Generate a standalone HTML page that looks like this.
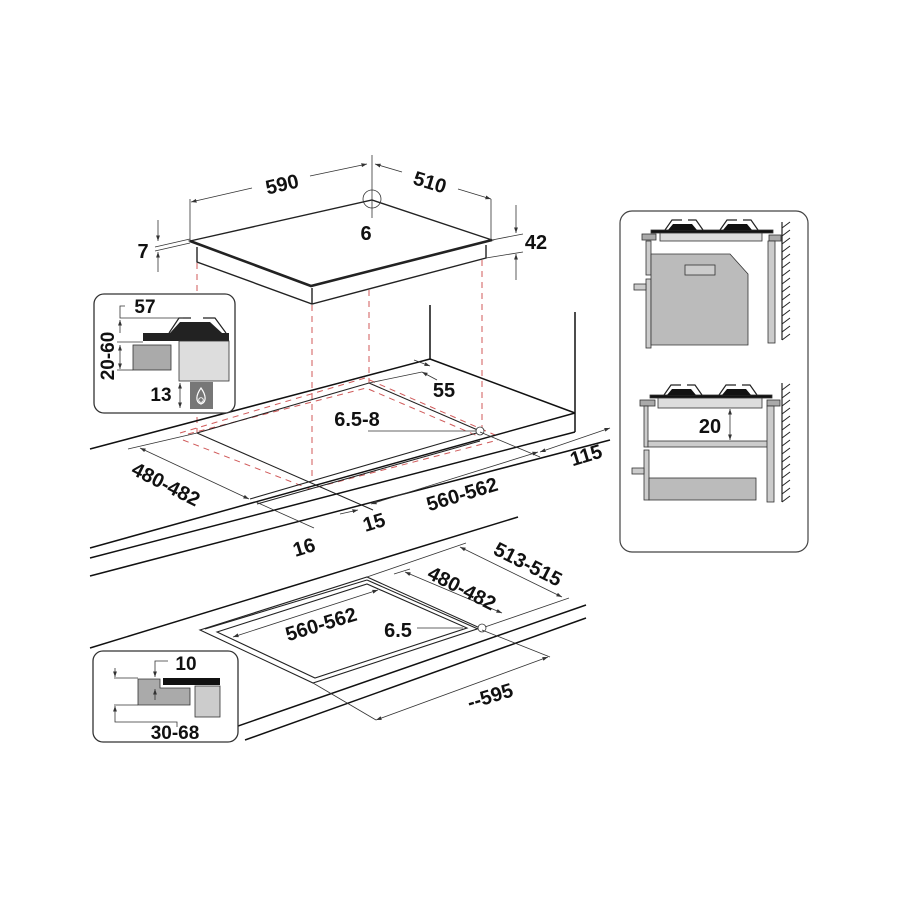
<!DOCTYPE html>
<html><head><meta charset="utf-8"><style>
html,body{margin:0;padding:0;background:#fff;width:900px;height:900px;overflow:hidden}
svg{display:block}
text{font-family:"Liberation Sans",sans-serif;font-weight:bold;fill:#111}
</style></head><body>
<svg width="900" height="900" viewBox="0 0 900 900" xmlns="http://www.w3.org/2000/svg">
<defs>
<marker id="a" viewBox="0 0 10 10" refX="10" refY="5" markerWidth="7" markerHeight="7" orient="auto-start-reverse"><path d="M0,1.5 L10,5 L0,8.5 z" fill="#333"/></marker>
</defs>

<!-- ===== HOB (top) ===== -->
<g stroke="#222" fill="none" stroke-width="1.4">
<polygon points="190,241 372,200 492,240 311,286" fill="#fff"/>
<path d="M197,247 L197,262 L312,304 L486,258 L486,245"/>
<path d="M312,288 L312,304"/>
<path d="M190,241 L311,286 L492,240" stroke-width="2.6"/>
</g>
<g stroke="#d05a5a" stroke-width="1" stroke-dasharray="6,5" fill="none">
<line x1="197" y1="263" x2="197" y2="433"/>
<line x1="312" y1="305" x2="312" y2="482"/>
<line x1="369" y1="290" x2="369" y2="383"/>
<line x1="482" y1="260" x2="482" y2="430"/>
<path d="M180,433 L365,378 L495,435"/>
<path d="M183,440 L310,489 L498,440"/>
<path d="M188,434 L366,388 L480,437"/>
</g>
<g stroke="#333" stroke-width="0.8" fill="none">
<line x1="190" y1="199" x2="190" y2="241"/>
<line x1="191" y1="202" x2="252" y2="188" marker-start="url(#a)"/>
<line x1="310" y1="176" x2="367" y2="164" marker-end="url(#a)"/>
<line x1="375" y1="164" x2="402" y2="172" marker-start="url(#a)"/>
<line x1="458" y1="189" x2="491" y2="199" marker-end="url(#a)"/>
<line x1="491" y1="199" x2="491" y2="240"/>
<line x1="372" y1="155" x2="372" y2="218"/>
<circle cx="372" cy="199" r="9"/>
<line x1="516" y1="205" x2="516" y2="233" marker-end="url(#a)"/>
<line x1="516" y1="280" x2="516" y2="254" marker-end="url(#a)"/>
<line x1="492" y1="240" x2="523" y2="234"/>
<line x1="486" y1="258" x2="523" y2="252"/>
<line x1="158" y1="220" x2="158" y2="241" marker-end="url(#a)"/>
<line x1="158" y1="272" x2="158" y2="252" marker-end="url(#a)"/>
<line x1="155" y1="251" x2="190" y2="243"/>
<line x1="155" y1="247" x2="190" y2="239"/>
</g>
<text x="282" y="191" font-size="20" text-anchor="middle" transform="rotate(-13 282 184)">590</text>
<text x="430" y="189" font-size="20" text-anchor="middle" transform="rotate(17 430 182)">510</text>
<text x="366" y="240" font-size="20" text-anchor="middle">6</text>
<text x="143" y="258" font-size="20" text-anchor="middle">7</text>
<text x="536" y="249" font-size="20" text-anchor="middle">42</text>

<!-- ===== COUNTERTOP (upper) ===== -->
<g stroke="#111" stroke-width="1.5" fill="none">
<line x1="90" y1="449" x2="430" y2="359"/>
<line x1="430" y1="305" x2="430" y2="359"/>
<line x1="430" y1="359" x2="575" y2="413"/>
<line x1="575" y1="312" x2="575" y2="432"/>
<line x1="575" y1="413" x2="90" y2="548"/>
<line x1="575" y1="432" x2="90" y2="558"/>
<line x1="610" y1="440" x2="90" y2="576"/>
</g>
<g stroke="#222" stroke-width="1.1" fill="none">
<line x1="197" y1="433" x2="369" y2="383"/>
<line x1="369" y1="383" x2="480" y2="431"/>
<line x1="197" y1="433" x2="373" y2="510"/>
<line x1="250" y1="499" x2="480" y2="432"/>
<line x1="257" y1="504" x2="480" y2="441"/>
</g>
<g stroke="#333" stroke-width="0.8" fill="none">
<circle cx="480" cy="431" r="4" fill="#fff"/>
<line x1="368" y1="431" x2="476" y2="431"/>
<line x1="140" y1="448" x2="249" y2="499" marker-start="url(#a)" marker-end="url(#a)"/>
<line x1="128" y1="449" x2="197" y2="433"/>
<line x1="371" y1="504" x2="538" y2="452" marker-start="url(#a)" marker-end="url(#a)"/>
<line x1="480" y1="432" x2="540" y2="457"/>
<line x1="540" y1="452" x2="610" y2="428" marker-start="url(#a)" marker-end="url(#a)"/>
<line x1="256" y1="502" x2="314" y2="528"/>
<line x1="340" y1="514" x2="358" y2="510" marker-end="url(#a)"/>
<line x1="369" y1="383" x2="422" y2="372"/>
<line x1="414" y1="360" x2="430" y2="366" marker-end="url(#a)"/>
<line x1="422" y1="372" x2="437" y2="380" marker-start="url(#a)"/>
</g>
<text x="444" y="397" font-size="20" text-anchor="middle">55</text>
<text x="357" y="426" font-size="20" text-anchor="middle">6.5-8</text>
<text x="166" y="491" font-size="20" text-anchor="middle" transform="rotate(27 166 484)">480-482</text>
<text x="462" y="501" font-size="20" text-anchor="middle" transform="rotate(-17 462 494)">560-562</text>
<text x="374" y="529" font-size="20" text-anchor="middle" transform="rotate(-17 374 522)">15</text>
<text x="304" y="554" font-size="20" text-anchor="middle" transform="rotate(-17 304 547)">16</text>
<text x="586" y="462" font-size="20" text-anchor="middle" transform="rotate(-17 586 455)">115</text>

<!-- ===== UPPER INSET ===== -->
<rect x="94" y="294" width="141" height="119" rx="10" fill="#fff" stroke="#333" stroke-width="1.3"/>
<rect x="143" y="333" width="86" height="8" fill="#222"/>
<rect x="133" y="345" width="38" height="25" fill="#aaa" stroke="#333" stroke-width="0.8"/>
<rect x="179" y="341" width="50" height="40" fill="#ddd" stroke="#333" stroke-width="0.8"/>
<path d="M170,333 L180,322 L210,322 L222,333 Z" fill="#222"/>
<path d="M169,333 L179,318 L191,318 M203,318 L215,318 L226,333" stroke="#222" fill="none" stroke-width="1.2"/>
<rect x="190" y="382" width="23" height="27" fill="#777"/>
<path d="M201,388 C196,395 195,402 201,404 C207,402 206,395 201,388 Z" fill="none" stroke="#fff" stroke-width="1.2"/>
<circle cx="201" cy="400" r="2.3" fill="none" stroke="#fff" stroke-width="0.9"/>
<g stroke="#333" stroke-width="0.8" fill="none">
<path d="M125,306 L120,306 L120,318 L183,318"/>
<line x1="120" y1="320" x2="120" y2="333" marker-start="url(#a)"/>
<line x1="120" y1="345" x2="120" y2="369" marker-start="url(#a)" marker-end="url(#a)"/>
<line x1="117" y1="342" x2="143" y2="342"/>
<line x1="117" y1="370" x2="133" y2="370"/>
<line x1="180" y1="383" x2="180" y2="408" marker-start="url(#a)" marker-end="url(#a)"/>
</g>
<text x="145" y="313" font-size="19" text-anchor="middle">57</text>
<text x="161" y="401" font-size="19" text-anchor="middle">13</text>
<text x="0" y="0" font-size="19" text-anchor="middle" transform="translate(114 356) rotate(-90)">20-60</text>

<!-- ===== LOWER COUNTERTOP ===== -->
<g stroke="#111" stroke-width="1.5" fill="none">
<line x1="90" y1="648" x2="518" y2="517"/>
<line x1="218" y1="733" x2="586" y2="605"/>
<line x1="245" y1="740" x2="586" y2="618"/>
</g>
<g stroke="#222" stroke-width="1.1" fill="none">
<polygon points="200,630 367,577 480,628 313,683"/>
<polygon points="217,632 367,584 467,628 315,678"/>
<line x1="205" y1="629" x2="367" y2="580"/>
<line x1="367" y1="580" x2="478" y2="629"/>
</g>
<g stroke="#333" stroke-width="0.8" fill="none">
<line x1="367" y1="577" x2="466" y2="543"/>
<line x1="460" y1="547" x2="562" y2="597" marker-start="url(#a)" marker-end="url(#a)"/>
<line x1="482" y1="628" x2="569" y2="598"/>
<line x1="405" y1="572" x2="502" y2="613" marker-start="url(#a)" marker-end="url(#a)"/>
<line x1="394" y1="574" x2="410" y2="569"/>
<line x1="233" y1="637" x2="378" y2="590" marker-start="url(#a)" marker-end="url(#a)"/>
<line x1="417" y1="628" x2="463" y2="628"/>
<circle cx="482" cy="628" r="4" fill="#fff"/>
<line x1="313" y1="683" x2="376" y2="720"/>
<line x1="482" y1="630" x2="550" y2="657"/>
<line x1="376" y1="720" x2="548" y2="657" marker-start="url(#a)" marker-end="url(#a)"/>
</g>
<text x="528" y="571" font-size="20" text-anchor="middle" transform="rotate(27 528 564)">513-515</text>
<text x="462" y="595" font-size="20" text-anchor="middle" transform="rotate(27 462 588)">480-482</text>
<text x="321" y="631" font-size="20" text-anchor="middle" transform="rotate(-17 321 624)">560-562</text>
<text x="398" y="637" font-size="20" text-anchor="middle">6.5</text>
<text x="490" y="703" font-size="20" text-anchor="middle" transform="rotate(-17 490 696)">--595</text>

<!-- ===== LOWER INSET ===== -->
<rect x="93" y="651" width="145" height="91" rx="10" fill="#fff" stroke="#333" stroke-width="1.3"/>
<path d="M138,679 L160,679 L160,688 L190,688 L190,705 L138,705 Z" fill="#aaa" stroke="#333" stroke-width="0.8"/>
<rect x="163" y="678" width="57" height="7" fill="#111"/>
<rect x="195" y="686" width="25" height="31" fill="#ccc" stroke="#333" stroke-width="0.8"/>
<g stroke="#333" stroke-width="0.8" fill="none">
<path d="M168,661 L155,661 L155,677" marker-end="url(#a)"/>
<line x1="155" y1="700" x2="155" y2="689" marker-end="url(#a)"/>
<line x1="114" y1="678" x2="138" y2="678"/>
<line x1="114" y1="705" x2="138" y2="705"/>
<line x1="115" y1="668" x2="115" y2="677" marker-end="url(#a)"/>
<line x1="115" y1="719" x2="115" y2="706" marker-end="url(#a)"/>
<path d="M115,719 L115,722 L177,722 L177,727"/>
</g>
<text x="186" y="670" font-size="19" text-anchor="middle">10</text>
<text x="175" y="739" font-size="19" text-anchor="middle">30-68</text>

<!-- ===== RIGHT PANEL ===== -->
<rect x="620" y="211" width="188" height="341" rx="12" fill="#fff" stroke="#444" stroke-width="1.2"/>
<g stroke="#333" stroke-width="0.8">
<rect x="651" y="230" width="122" height="3" fill="#111"/>
<rect x="660" y="233" width="102" height="8" fill="#ddd"/>
<rect x="642" y="234" width="14" height="6" fill="#aaa"/>
<rect x="769" y="235" width="12" height="6" fill="#aaa"/>
<rect x="646" y="241" width="5" height="34" fill="#ccc"/>
<rect x="646" y="279" width="5" height="69" fill="#ccc"/>
<path d="M651,254 L730,254 L748,274 L748,345 L651,345 Z" fill="#bbb"/>
<rect x="685" y="265" width="30" height="10" fill="#ccc"/>
<rect x="634" y="284" width="12" height="6" fill="#ccc"/>
<rect x="768" y="241" width="7" height="102" fill="#ccc"/>
</g>
<g fill="#111"><path d="M668,230 L673,224 L692,224 L697,230Z"/><path d="M723,230 L728,224 L747,224 L752,230Z"/></g>
<path d="M665,230 L672,220 L682,220 M688,220 L696,220 L703,230 M720,230 L727,220 L737,220 M743,220 L751,220 L758,230" stroke="#222" fill="none" stroke-width="1.2"/>
<g stroke="#333" stroke-width="0.8">
<rect x="650" y="395" width="122" height="3" fill="#111"/>
<rect x="658" y="398" width="104" height="10" fill="#ddd"/>
<rect x="640" y="400" width="15" height="6" fill="#aaa"/>
<rect x="767" y="400" width="13" height="6" fill="#aaa"/>
<rect x="644" y="406" width="4" height="41" fill="#ccc"/>
<rect x="648" y="441" width="120" height="6" fill="#ccc"/>
<rect x="644" y="450" width="5" height="50" fill="#ccc"/>
<rect x="649" y="478" width="107" height="22" fill="#bbb"/>
<rect x="632" y="468" width="12" height="6" fill="#ccc"/>
<rect x="767" y="406" width="7" height="96" fill="#ccc"/>
</g>
<g fill="#111"><path d="M667,395 L672,389 L691,389 L696,395Z"/><path d="M722,395 L727,389 L746,389 L751,395Z"/></g>
<path d="M664,395 L671,385 L681,385 M687,385 L695,385 L702,395 M719,395 L726,385 L736,385 M742,385 L750,385 L757,395" stroke="#222" fill="none" stroke-width="1.2"/>
<line x1="730" y1="409" x2="730" y2="440" stroke="#333" stroke-width="0.8" marker-start="url(#a)" marker-end="url(#a)"/>
<text x="710" y="433" font-size="20" text-anchor="middle">20</text>
<g stroke="#222" stroke-width="1.2">
<line x1="782" y1="222" x2="782" y2="340"/>
<line x1="782" y1="383" x2="782" y2="502"/>
</g>
<g stroke="#222" stroke-width="1">
<path d="M782,228 l8,-6 M782,236 l8,-6 M782,244 l8,-6 M782,252 l8,-6 M782,260 l8,-6 M782,268 l8,-6 M782,276 l8,-6 M782,284 l8,-6 M782,292 l8,-6 M782,300 l8,-6 M782,308 l8,-6 M782,316 l8,-6 M782,324 l8,-6 M782,332 l8,-6 M782,340 l8,-6"/>
<path d="M782,390 l8,-6 M782,398 l8,-6 M782,406 l8,-6 M782,414 l8,-6 M782,422 l8,-6 M782,430 l8,-6 M782,438 l8,-6 M782,446 l8,-6 M782,454 l8,-6 M782,462 l8,-6 M782,470 l8,-6 M782,478 l8,-6 M782,486 l8,-6 M782,494 l8,-6 M782,502 l8,-6"/>
</g>
</svg>
</body></html>
